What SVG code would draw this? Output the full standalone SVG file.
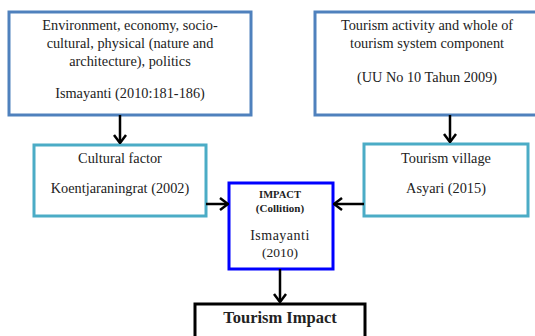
<svg xmlns="http://www.w3.org/2000/svg" width="535" height="336" viewBox="0 0 535 336">
<defs>
<style>
text{font-family:"Liberation Serif","DejaVu Serif",serif;font-size:14.3px;fill:#222;text-anchor:middle}
.b{font-weight:bold}
.box1{fill:#fff;stroke:#4F81BD;stroke-width:3}
.box2{fill:#fff;stroke:#4BACC6;stroke-width:3}
.imp{fill:#fff;stroke:#0000FF;stroke-width:3}
.ti{fill:#fff;stroke:#000;stroke-width:3}
.c{stroke:#000;stroke-width:2.5;fill:none}
</style>
<marker id="ah" viewBox="0 0 10 14" refX="9" refY="7" markerWidth="10" markerHeight="14" markerUnits="userSpaceOnUse" orient="auto">
<path d="M1,1 L9,7 L1,13" fill="none" stroke="#000" stroke-width="2.5"/>
</marker>
</defs>
<rect width="535" height="336" fill="#fff"/>
<g id="env">
<rect class="box1" x="9" y="12" width="242" height="103"/>
<text x="130" y="30">Environment, economy, socio-</text>
<text x="130" y="48">cultural, physical (nature and</text>
<text x="130" y="66">architecture), politics</text>
<text x="130" y="98">Ismayanti (2010:181-186)</text>
</g>
<g id="tourism-activity">
<rect class="box1" x="315" y="12" width="230" height="103"/>
<text x="427" y="30">Tourism activity and whole of</text>
<text x="427" y="48">tourism system component</text>
<text x="427" y="82">(UU No 10 Tahun 2009)</text>
</g>
<g id="cultural">
<rect class="box2" x="34" y="145" width="172" height="71"/>
<text x="120" y="163">Cultural factor</text>
<text x="120" y="193">Koentjaraningrat  (2002)</text>
</g>
<g id="village">
<rect class="box2" x="364" y="144" width="164" height="72"/>
<text x="446" y="163">Tourism village</text>
<text x="446" y="193">Asyari (2015)</text>
</g>
<g id="impact">
<rect class="imp" x="229" y="183" width="104" height="86"/>
<text class="b" x="280" y="198" style="font-size:10.5px">IMPACT</text>
<text class="b" x="280" y="212" style="font-size:11px">(Collition)</text>
<text x="280" y="240" style="font-size:14px;letter-spacing:0.5px">Ismayanti</text>
<text x="280" y="257" style="font-size:13.5px">(2010)</text>
</g>
<g id="tourism-impact">
<rect class="ti" x="195" y="304" width="170" height="40"/>
<text class="b" x="280" y="323" style="font-size:16.5px">Tourism Impact</text>
</g>
<g id="connectors">
<line class="c" x1="120" y1="115" x2="120" y2="143" marker-end="url(#ah)"/>
<line class="c" x1="450" y1="115" x2="450" y2="142" marker-end="url(#ah)"/>
<line class="c" x1="206" y1="204" x2="228" y2="204" marker-end="url(#ah)"/>
<line class="c" x1="364" y1="204" x2="334" y2="204" marker-end="url(#ah)"/>
<line class="c" x1="280" y1="269" x2="280" y2="302" marker-end="url(#ah)"/>
</g>
</svg>
